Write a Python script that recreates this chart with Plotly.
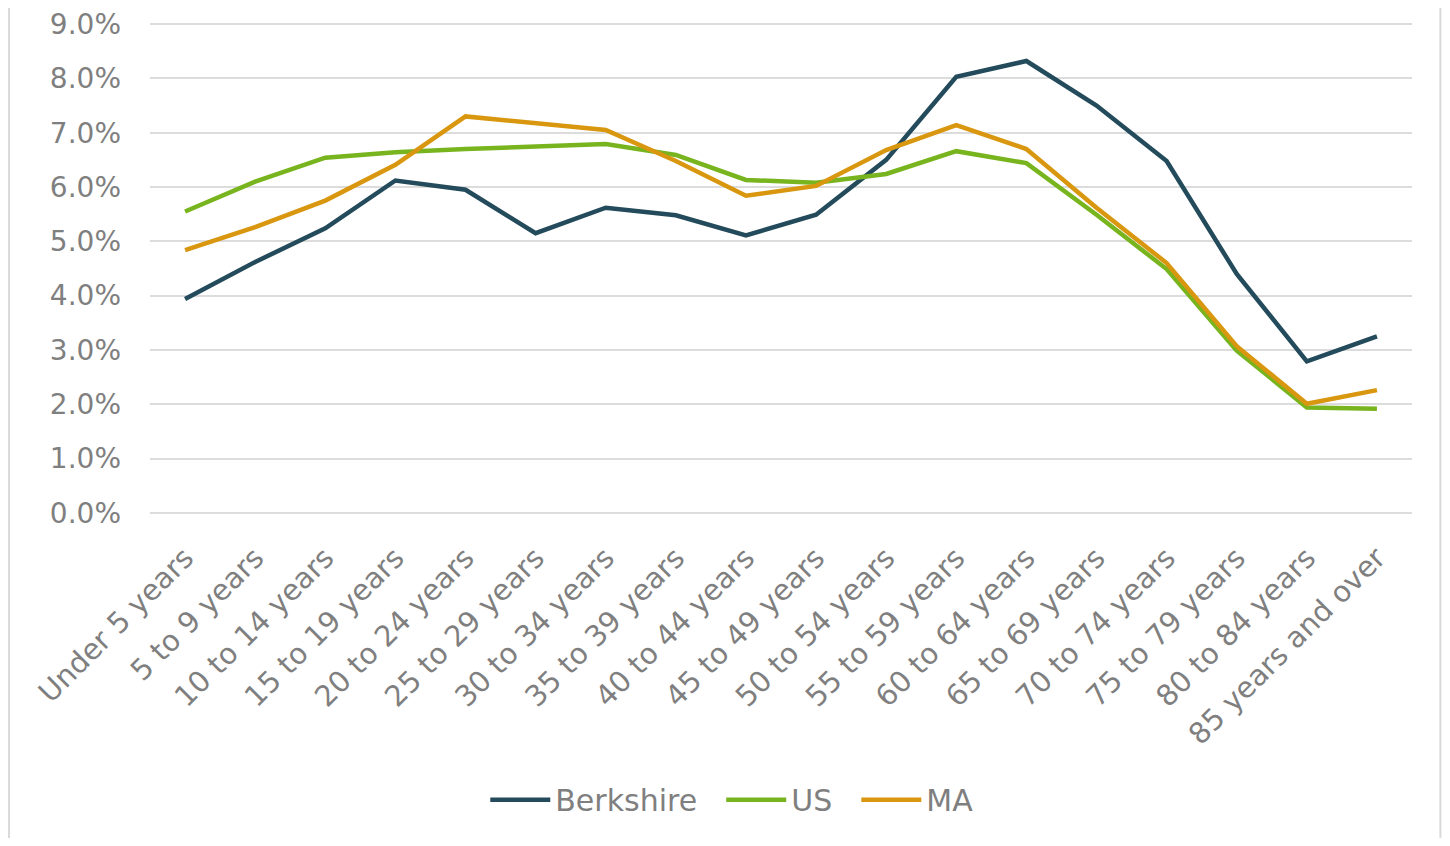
import plotly.graph_objects as go

categories = ["Under 5 years", "5 to 9 years", "10 to 14 years", "15 to 19 years",
              "20 to 24 years", "25 to 29 years", "30 to 34 years", "35 to 39 years",
              "40 to 44 years", "45 to 49 years", "50 to 54 years", "55 to 59 years",
              "60 to 64 years", "65 to 69 years", "70 to 74 years", "75 to 79 years",
              "80 to 84 years", "85 years and over"]

berkshire = [3.94, 4.62, 5.24, 6.12, 5.95, 5.15, 5.62, 5.48, 5.11, 5.49,
             6.50, 8.03, 8.32, 7.50, 6.48, 4.40, 2.79, 3.25]
us = [5.55, 6.10, 6.54, 6.64, 6.70, 6.74, 6.79, 6.59, 6.13, 6.08,
      6.24, 6.66, 6.44, 5.49, 4.49, 2.99, 1.94, 1.92]
ma = [4.84, 5.26, 5.75, 6.41, 7.30, 7.17, 7.05, 6.48, 5.84, 6.02,
      6.68, 7.14, 6.70, 5.62, 4.60, 3.07, 2.01, 2.26]

y_ticks = [i for i in range(0, 10)]
y_tick_labels = [f"{v:.1f}%" for v in y_ticks]

series = [("Berkshire", berkshire, "#234b5b"),
          ("US", us, "#78b41e"),
          ("MA", ma, "#d9960f")]

fig = go.Figure()
for i, (name, vals, color) in enumerate(series):
    label = name + ("\u00a0\u00a0" if i < len(series) - 1 else "")
    fig.add_trace(go.Scatter(x=categories, y=vals, name=label, mode="lines",
                             line=dict(color=color, width=4.5)))

font_color = "#7f7f7f"
fam = "DejaVu Sans, sans-serif"
fig.update_layout(
    width=1434, height=830,
    paper_bgcolor="white", plot_bgcolor="white",
    margin=dict(l=142, r=30, t=15, b=322),
    font=dict(family=fam, color=font_color, size=26),
    showlegend=True,
    legend=dict(orientation="h", x=0.461, xanchor="center", y=-0.582, yanchor="middle",
                font=dict(size=30, color=font_color, family=fam), itemwidth=60,
                tracegroupgap=0),
    xaxis=dict(type="category", range=[-0.5, 17.5], tickangle=-45,
               showgrid=False, showline=False, ticks="", zeroline=False,
               ticklabelstandoff=20, automargin=False,
               tickfont=dict(size=29, color=font_color, family=fam)),
    yaxis=dict(range=[-0.02, 9.02], tickvals=y_ticks, ticktext=y_tick_labels,
               showgrid=True, gridcolor="#dcdcdc", gridwidth=2, zeroline=False,
               showline=False, ticks="", ticklabelstandoff=28, automargin=False,
               ticklabeloverflow="allow",
               tickfont=dict(size=28, color=font_color, family=fam)),
)

fig.add_shape(type="line", xref="paper", yref="paper", x0=-0.1117, x1=-0.1117, y0=-0.7, y1=1.05,
              line=dict(color="#d9d9d9", width=2))
fig.add_shape(type="line", xref="paper", yref="paper", x0=1.0225, x1=1.0225, y0=-0.7, y1=1.05,
              line=dict(color="#d9d9d9", width=2))

fig.write_html("out.html")
